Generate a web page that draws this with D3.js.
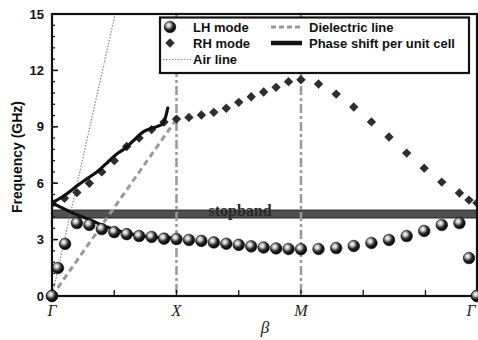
<!DOCTYPE html>
<html>
<head>
<meta charset="utf-8">
<script src="https://cdn.jsdelivr.net/npm/d3@7"></script>
<style>
  body { margin: 0; background: #fff; }
  svg { display: block; }
</style>
</head>
<body>
<div id="chart"></div>
<script>
// dispersion diagram, beta along Γ-X-M-Γ (Γ-M scaled by sqrt 2)
const symTicks = [
  {label: 'Γ', beta: 0},
  {label: 'X', beta: 1},
  {label: 'M', beta: 2},
  {label: 'Γ', beta: 3.414}
];
const yTicks = [0, 3, 6, 9, 12, 15];

const lhBeta = [0, 0.048, 0.105, 0.2, 0.3, 0.4, 0.5, 0.6, 0.7, 0.8, 0.9, 1.0,
  1.1, 1.2, 1.3, 1.4, 1.5, 1.6, 1.7, 1.8, 1.9, 2.0,
  2.141, 2.283, 2.424, 2.566, 2.707, 2.849, 2.990, 3.131, 3.273, 3.35, 3.414];
const lhFreq = [0, 1.49, 2.77, 3.88, 3.78, 3.56, 3.4, 3.29, 3.19, 3.14, 3.05, 3.03,
  2.98, 2.93, 2.85, 2.78, 2.72, 2.64, 2.58, 2.53, 2.5, 2.49,
  2.5, 2.55, 2.66, 2.82, 2.98, 3.19, 3.46, 3.78, 3.88, 2.02, 0];

const rhBeta = [0, 0.1, 0.2, 0.3, 0.4, 0.5, 0.6, 0.7, 0.8, 0.9, 1.0,
  1.1, 1.2, 1.3, 1.4, 1.5, 1.6, 1.7, 1.8, 1.9, 2.0,
  2.141, 2.283, 2.424, 2.566, 2.707, 2.849, 2.990, 3.131, 3.273, 3.35, 3.414];
const rhFreq = [4.95, 5.2, 5.5, 6.0, 6.6, 7.2, 7.95, 8.4, 8.85, 9.25, 9.41,
  9.5, 9.63, 9.77, 9.99, 10.3, 10.6, 10.85, 11.1, 11.4, 11.5,
  11.28, 10.74, 10.05, 9.26, 8.46, 7.6, 6.8, 6.06, 5.48, 5.1, 4.95];

// phase shift per unit cell (two branches)
const phaseUpBeta = [0, 0.105, 0.21, 0.29, 0.37, 0.45, 0.52, 0.59, 0.66, 0.73, 0.81, 0.89, 0.91, 0.93];
const phaseUpFreq = [4.95, 5.37, 5.9, 6.28, 6.65, 7.13, 7.55, 7.87, 8.3, 8.72, 8.94, 9.15, 9.47, 10.0];
const phaseLoBeta = [0, 0.17, 0.31, 0.44, 0.6, 0.79, 0.97, 1.0];
const phaseLoFreq = [4.95, 4.41, 4.04, 3.67, 3.35, 3.14, 3.09, 3.05];

const dielBeta = [0, 1.0];
const dielFreq = [0, 9.41];
const airBeta = [0, 0.507];
const airFreq = [0, 15];

const stopband = [4.15, 4.57];

const width = 478, height = 340;
const margin = {top: 14, right: 1, bottom: 44, left: 52};
const svg = d3.select('#chart').append('svg')
  .attr('width', width).attr('height', height);

const x = d3.scaleLinear().domain([0, 3.414]).range([margin.left, width - margin.right]);
const y = d3.scaleLinear().domain([0, 15]).range([height - margin.bottom, margin.top]);

const defs = svg.append('defs');
defs.append('clipPath').attr('id', 'plot')
  .append('rect')
  .attr('x', x(0)).attr('y', y(15))
  .attr('width', x(3.414) - x(0)).attr('height', y(0) - y(15));

const grad = defs.append('radialGradient').attr('id', 'ball')
  .attr('cx', '38%').attr('cy', '35%').attr('r', '65%');
grad.append('stop').attr('offset', '0%').attr('stop-color', '#ffffff');
grad.append('stop').attr('offset', '25%').attr('stop-color', '#c8c8c8');
grad.append('stop').attr('offset', '60%').attr('stop-color', '#2a2a2a');
grad.append('stop').attr('offset', '100%').attr('stop-color', '#000000');

const plot = svg.append('g').attr('clip-path', 'url(#plot)');

// stopband
plot.append('rect')
  .attr('x', x(0)).attr('width', x(3.414) - x(0))
  .attr('y', y(stopband[1])).attr('height', y(stopband[0]) - y(stopband[1]))
  .attr('fill', '#505050').attr('stroke', '#222').attr('stroke-width', 1);

plot.append('text')
  .attr('x', 240).attr('y', y(stopband[0]) - 2)
  .attr('text-anchor', 'middle')
  .attr('font-family', '"Liberation Serif", "DejaVu Serif", serif')
  .attr('font-weight', 'bold').attr('font-size', 16)
  .attr('fill', '#2b2b2b')
  .text('stopband');

// vertical dash-dot lines at X and M
plot.selectAll('line.sym')
  .data(symTicks.slice(1, 3))
  .enter().append('line')
  .attr('class', 'sym')
  .attr('x1', d => x(d.beta)).attr('x2', d => x(d.beta))
  .attr('y1', y(15)).attr('y2', y(0))
  .attr('stroke', '#999').attr('stroke-width', 2.5)
  .attr('stroke-dasharray', '9,3,3,3');

const line = d3.line().x(d => x(d[0])).y(d => y(d[1]));

// dielectric line
plot.append('path')
  .datum(d3.zip(dielBeta, dielFreq))
  .attr('fill', 'none').attr('stroke', '#999').attr('stroke-width', 3)
  .attr('stroke-dasharray', '6,4')
  .attr('d', line);

// air line
plot.append('path')
  .datum(d3.zip(airBeta, airFreq))
  .attr('fill', 'none').attr('stroke', '#888').attr('stroke-width', 1.2)
  .attr('stroke-dasharray', '1.5,1.5')
  .attr('d', line);

// RH diamonds
plot.selectAll('path.rh')
  .data(d3.zip(rhBeta, rhFreq))
  .enter().append('path')
  .attr('class', 'rh')
  .attr('d', d3.symbol(d3.symbolSquare, 44))
  .attr('transform', d => `translate(${x(d[0])},${y(d[1])}) rotate(45)`)
  .attr('fill', '#2e2e2e');

// phase shift lines
const smooth = d3.line().curve(d3.curveCatmullRom).x(d => x(d[0])).y(d => y(d[1]));
[d3.zip(phaseUpBeta, phaseUpFreq), d3.zip(phaseLoBeta, phaseLoFreq)].forEach(pts => {
  plot.append('path')
    .datum(pts)
    .attr('fill', 'none').attr('stroke', '#111').attr('stroke-width', 3.2)
    .attr('stroke-linejoin', 'round').attr('stroke-linecap', 'round')
    .attr('d', smooth);
});

// LH balls
svg.append('g').selectAll('circle')
  .data(d3.zip(lhBeta, lhFreq))
  .enter().append('circle')
  .attr('cx', d => x(d[0])).attr('cy', d => y(d[1]))
  .attr('r', 5.8)
  .attr('fill', 'url(#ball)').attr('stroke', '#111').attr('stroke-width', 0.6);

// axes
const font = '"Liberation Sans", Arial, sans-serif';
const yAxis = svg.append('g');
yAxis.selectAll('line.minor')
  .data(d3.range(0, 15.01, 0.6))
  .enter().append('line')
  .attr('x1', x(0)).attr('x2', x(0) + 3)
  .attr('y1', d => y(d)).attr('y2', d => y(d))
  .attr('stroke', '#111').attr('stroke-width', 1.3);
yAxis.selectAll('line.major')
  .data(yTicks)
  .enter().append('line')
  .attr('x1', x(0)).attr('x2', x(0) + 6)
  .attr('y1', d => y(d)).attr('y2', d => y(d))
  .attr('stroke', '#111').attr('stroke-width', 1.5);
yAxis.selectAll('text')
  .data(yTicks)
  .enter().append('text')
  .attr('x', 44).attr('y', d => y(d)).attr('dy', '0.36em')
  .attr('text-anchor', 'end')
  .attr('font-family', font).attr('font-weight', 'bold').attr('font-size', 13)
  .attr('fill', '#111')
  .text(d => d);

svg.append('text')
  .attr('transform', `translate(22,157) rotate(-90)`)
  .attr('text-anchor', 'middle')
  .attr('font-family', font).attr('font-weight', 'bold').attr('font-size', 14)
  .attr('fill', '#111')
  .text('Frequency (GHz)');

const xAxis = svg.append('g');
xAxis.selectAll('line')
  .data(d3.range(0.5, 3.4, 0.5))
  .enter().append('line')
  .attr('x1', d => x(d)).attr('x2', d => x(d))
  .attr('y1', y(0)).attr('y2', y(0) - 6)
  .attr('stroke', '#111').attr('stroke-width', 1.3);
xAxis.selectAll('text')
  .data(symTicks)
  .enter().append('text')
  .attr('x', d => x(d.beta) - (d.beta > 3 ? 6 : 0)).attr('y', y(0) + 20)
  .attr('text-anchor', 'middle')
  .attr('font-family', '"Liberation Serif", "DejaVu Serif", serif')
  .attr('font-style', 'italic').attr('font-size', 16)
  .attr('fill', '#222')
  .text(d => d.label);

svg.append('text')
  .attr('x', 265).attr('y', 333)
  .attr('text-anchor', 'middle')
  .attr('font-family', '"Liberation Serif", "DejaVu Serif", serif')
  .attr('font-style', 'italic').attr('font-size', 17)
  .attr('fill', '#222')
  .text('β');

// frame
svg.append('rect')
  .attr('x', x(0)).attr('y', y(15))
  .attr('width', x(3.414) - x(0)).attr('height', y(0) - y(15))
  .attr('fill', 'none').attr('stroke', '#111').attr('stroke-width', 2.2);

// re-draw end balls on top of frame
svg.append('g').selectAll('circle')
  .data([[lhBeta[0], lhFreq[0]], [lhBeta[lhBeta.length - 1], lhFreq[lhFreq.length - 1]]])
  .enter().append('circle')
  .attr('cx', d => x(d[0])).attr('cy', d => y(d[1]))
  .attr('r', 5.8)
  .attr('fill', 'url(#ball)').attr('stroke', '#111').attr('stroke-width', 0.6);

// legend
const lg = svg.append('g');
lg.append('rect')
  .attr('x', 160).attr('y', 17.5).attr('width', 309).attr('height', 55.5)
  .attr('fill', '#fff').attr('stroke', '#111').attr('stroke-width', 2.2);

const legendRows = [27, 43, 59.5];
const lgText = (tx, ty, s) => lg.append('text')
  .attr('x', tx).attr('y', ty).attr('dy', '0.36em')
  .attr('font-family', font).attr('font-weight', 'bold').attr('font-size', 13)
  .attr('fill', '#111').text(s);

lg.append('circle').attr('cx', 170).attr('cy', legendRows[0]).attr('r', 5.8)
  .attr('fill', 'url(#ball)').attr('stroke', '#111').attr('stroke-width', 0.6);
lgText(193, legendRows[0], 'LH mode');
lg.append('path').attr('d', d3.symbol(d3.symbolSquare, 44))
  .attr('transform', `translate(170,${legendRows[1]}) rotate(45)`)
  .attr('fill', '#2e2e2e');
lgText(193, legendRows[1], 'RH mode');
lg.append('line').attr('x1', 163).attr('x2', 191)
  .attr('y1', legendRows[2]).attr('y2', legendRows[2])
  .attr('stroke', '#888').attr('stroke-width', 1.2).attr('stroke-dasharray', '1.5,1.5');
lgText(193, legendRows[2], 'Air line');

lg.append('line').attr('x1', 271).attr('x2', 302)
  .attr('y1', legendRows[0]).attr('y2', legendRows[0])
  .attr('stroke', '#999').attr('stroke-width', 3).attr('stroke-dasharray', '5,3');
lgText(309, legendRows[0], 'Dielectric line');
lg.append('line').attr('x1', 271).attr('x2', 302)
  .attr('y1', legendRows[1]).attr('y2', legendRows[1])
  .attr('stroke', '#111').attr('stroke-width', 4.5);
lgText(309, legendRows[1], 'Phase shift per unit cell');
</script>
</body>
</html>
